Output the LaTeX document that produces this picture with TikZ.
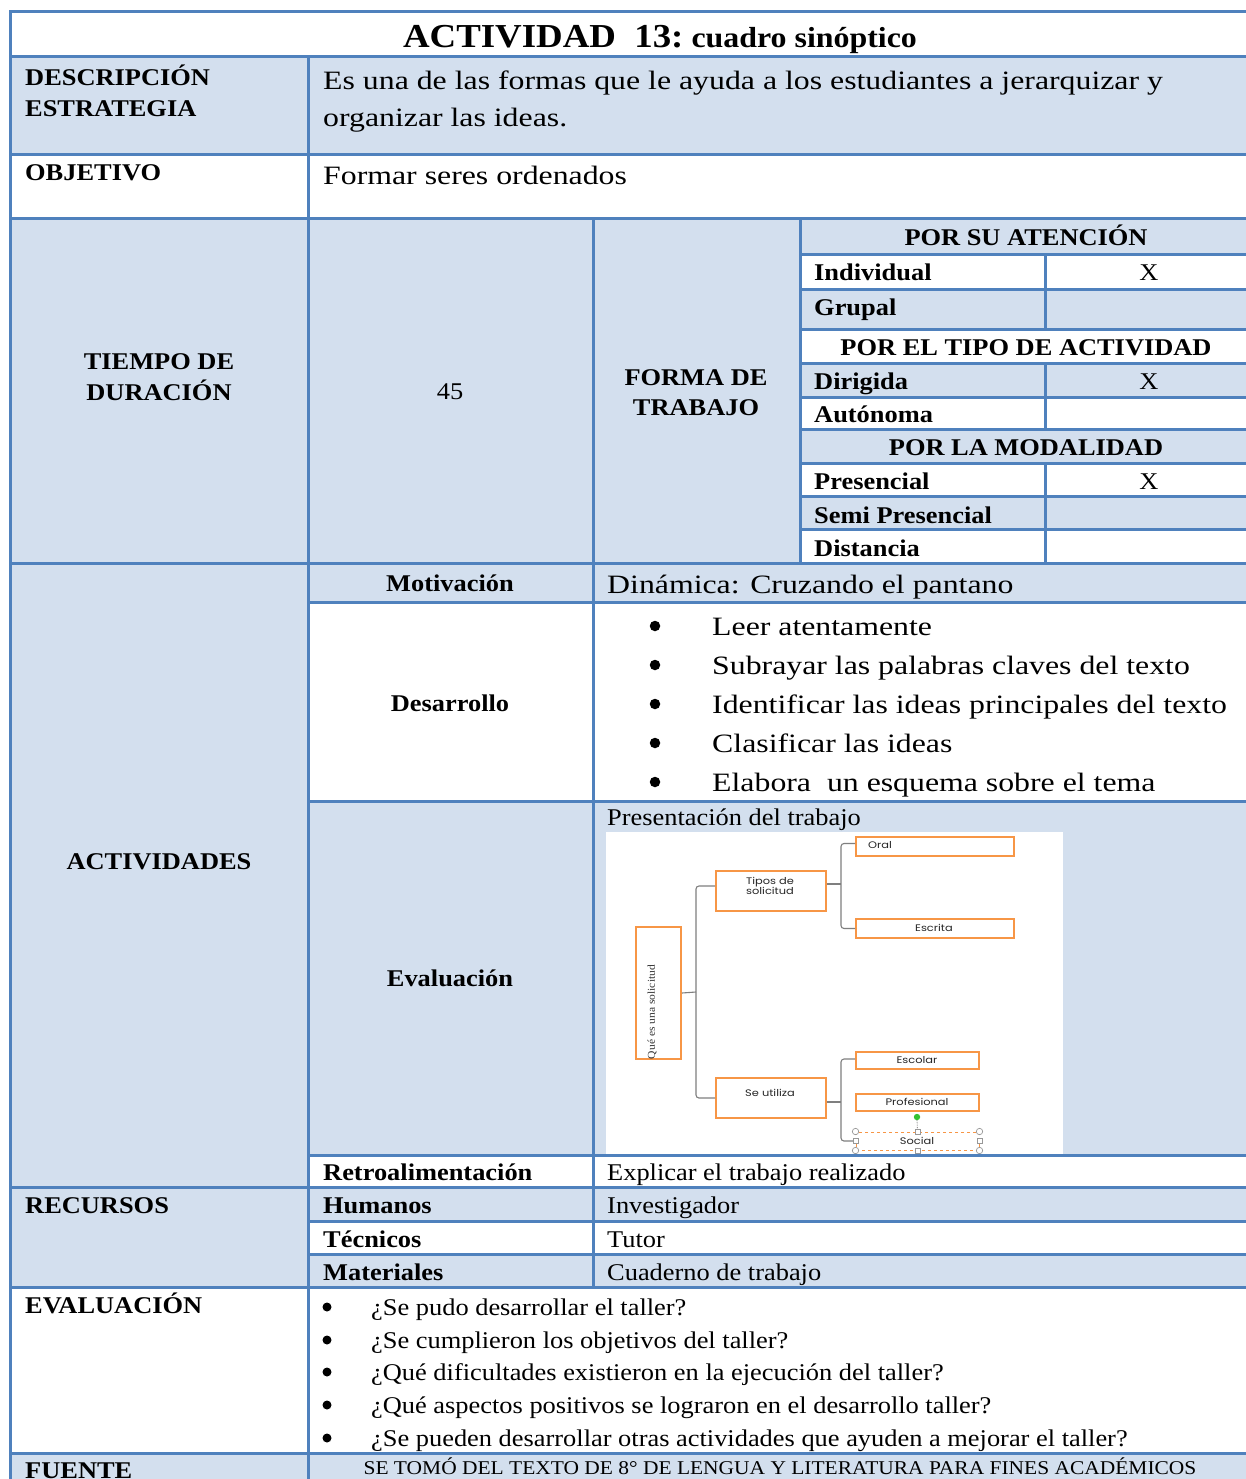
\documentclass[tikz,border=0pt]{standalone}
\usepackage{fontspec}
\setmainfont{Liberation Serif}[FakeStretch=1.1]
\newfontfamily\wfont{Liberation Serif}[FakeStretch=1.2]
\newfontfamily\gfont{Poppins}[FakeStretch=1.2]
\usetikzlibrary{calc}
\definecolor{tblue}{HTML}{4F81BD}
\definecolor{tfill}{HTML}{D3DFEE}
\definecolor{torange}{HTML}{F79646}
\definecolor{tgrey}{HTML}{7F7F7F}
\newcommand\lblfont{\fontsize{24}{30}\selectfont\bfseries}
\newcommand\medfont{\fontsize{24}{30}\selectfont}
\newcommand\bigfont{\wfont\fontsize{26.5}{32}\selectfont}
\newcommand\diafont{\gfont\fontsize{9.5}{11}\selectfont}
\begin{document}
\begin{tikzpicture}[x=1pt,y=-1pt,
  grid/.style={draw=tblue,line width=3pt},
  lab/.style={anchor=base west,inner sep=0pt,font=\lblfont},
  clab/.style={anchor=base,inner sep=0pt,font=\lblfont,align=center},
  txt/.style={anchor=base west,inner sep=0pt,font=\medfont},
  ctxt/.style={anchor=base,inner sep=0pt,font=\medfont},
  bigtxt/.style={anchor=base west,inner sep=0pt,font=\bigfont},
  bul/.style={circle,fill=black,inner sep=0pt},
  obox/.style={draw=torange,line width=2pt,inner sep=0pt},
  brk/.style={draw=tgrey,line width=1.1pt,rounded corners=3pt},
  dtext/.style={inner sep=0pt,font=\diafont,text=black!85}]
\useasboundingbox (0,0) rectangle (1245,1479);
\fill[white] (0,0) rectangle (1245,1479);
% ---------- fills ----------
\fill[tfill] (10,57) rectangle (1250,155);
\fill[tfill] (10,219) rectangle (800,563);
\fill[tfill] (800,219) rectangle (1250,254);
\fill[tfill] (800,289) rectangle (1250,329);
\fill[tfill] (800,363) rectangle (1250,397);
\fill[tfill] (800,429) rectangle (1250,463);
\fill[tfill] (800,496) rectangle (1250,529);
\fill[tfill] (10,563) rectangle (308,1187);
\fill[tfill] (308,563) rectangle (1250,602);
\fill[tfill] (308,801) rectangle (1250,1155);
\fill[tfill] (10,1187) rectangle (308,1287);
\fill[tfill] (308,1187) rectangle (1250,1221);
\fill[tfill] (308,1254) rectangle (1250,1287);
\fill[tfill] (10,1453) rectangle (1250,1495);
% ---------- embedded picture background ----------
\fill[white] (606,832) rectangle (1063,1154);
% ---------- grid lines ----------
\foreach \yy in {12,57,155,219,563,1187,1287,1453}
  \draw[grid] (10,\yy) -- (1250,\yy);
\foreach \yy in {602,801,1155,1221,1254}
  \draw[grid] (308,\yy) -- (1250,\yy);
\foreach \yy in {254,289,329,363,397,429,463,496,529}
  \draw[grid] (800,\yy) -- (1250,\yy);
\draw[grid] (10,10.5) -- (10,1495);
\draw[grid] (308,57) -- (308,1495);
\draw[grid] (593,219) -- (593,1287);
\draw[grid] (800,219) -- (800,563);
\draw[grid] (1045,254) -- (1045,329);
\draw[grid] (1045,363) -- (1045,429);
\draw[grid] (1045,463) -- (1045,563);
% ---------- title ----------
\node[anchor=base,inner sep=0pt] (title) at (660,48)
  {\fontsize{33.5}{36}\selectfont\bfseries ACTIVIDAD\ \ 13:\fontsize{29}{36}\selectfont\ cuadro sinóptico};
% ---------- descripcion / objetivo ----------
\node[lab] (ldesc1) at (25,86) {DESCRIPCIÓN};
\node[lab] (ldesc2) at (25,117) {ESTRATEGIA};
\node[bigtxt] (desc1) at (323,90) {Es una de las formas que le ayuda a los estudiantes a jerarquizar y};
\node[bigtxt] (desc2) at (323,127) {organizar las ideas.};
\node[lab] (lobj) at (25,181) {OBJETIVO};
\node[bigtxt] (obj) at (323,185) {Formar seres ordenados};
% ---------- tiempo / forma ----------
\node[clab] (ltiempo1) at (159,369) {TIEMPO DE};
\node[clab] (ltiempo2) at (159,400) {DURACIÓN};
\node[ctxt] (tiempo) at (450,399) {45};
\node[clab] (lforma1) at (696,385) {FORMA DE};
\node[clab] (lforma2) at (696,415) {TRABAJO};
\node[clab] (h1) at (1026,245) {POR SU ATENCIÓN};
\node[lab] (r1) at (814,280) {Individual};
\node[ctxt] (x1) at (1149,280) {X};
\node[lab] (r2) at (814,315) {Grupal};
\node[clab] (h2) at (1026,355) {POR EL TIPO DE ACTIVIDAD};
\node[lab] (r3) at (814,389) {Dirigida};
\node[ctxt] (x3) at (1149,389) {X};
\node[lab] (r4) at (814,422) {Autónoma};
\node[clab] (h3) at (1026,455) {POR LA MODALIDAD};
\node[lab] (r5) at (814,489) {Presencial};
\node[ctxt] (x5) at (1149,489) {X};
\node[lab] (r6) at (814,523) {Semi Presencial};
\node[lab] (r7) at (814,556) {Distancia};
% ---------- actividades ----------
\node[clab] (lact) at (159,869) {ACTIVIDADES};
\node[clab] (lmot) at (450,591) {Motivación};
\node[bigtxt] (mot) at (607,593) {Dinámica: Cruzando el pantano};
\node[clab] (ldes) at (450,711) {Desarrollo};
\foreach \yy/\tt [count=\i] in {635/Leer atentamente,674/Subrayar las palabras claves del texto,713/Identificar las ideas principales del texto,752/Clasificar las ideas,791/Elabora\ \ un esquema sobre el tema}{
  \node[bul,minimum size=10.5pt] (db\i) at (655,\yy-9) {};
  \node[bigtxt] (dt\i) at (712,\yy) {\tt};
}
\node[clab] (leva) at (450,986) {Evaluación};
\node[txt] (pres) at (607,825) {Presentación del trabajo};
\node[lab] (lret) at (323,1180) {Retroalimentación};
\node[txt] (ret) at (607,1180) {Explicar el trabajo realizado};
% ---------- recursos ----------
\node[lab] (lrec) at (25,1213) {RECURSOS};
\node[lab] (lhum) at (323,1213) {Humanos};
\node[txt] (hum) at (607,1213) {Investigador};
\node[lab] (ltec) at (323,1247) {Técnicos};
\node[txt] (tec) at (607,1247) {Tutor};
\node[lab] (lmat) at (323,1280) {Materiales};
\node[txt] (mat) at (607,1280) {Cuaderno de trabajo};
% ---------- evaluacion ----------
\node[lab] (levf) at (25,1313) {EVALUACIÓN};
\foreach \yy/\tt [count=\i] in {1315/¿Se pudo desarrollar el taller?,1348/¿Se cumplieron los objetivos del taller?,1380/¿Qué dificultades existieron en la ejecución del taller?,1413/¿Qué aspectos positivos se lograron en el desarrollo taller?,1446/¿Se pueden desarrollar otras actividades que ayuden a mejorar el taller?}{
  \node[bul,minimum size=9pt] (eb\i) at (327,\yy-8) {};
  \node[txt] (et\i) at (371,\yy) {\tt};
}
% ---------- fuente ----------
\node[lab] (lfue) at (25,1478) {FUENTE};
\node[anchor=base,inner sep=0pt,font=\fontsize{19.5}{22}\selectfont] (fue) at (780,1474)
  {SE TOMÓ DEL TEXTO DE 8° DE LENGUA Y LITERATURA PARA FINES ACADÉMICOS};
% ---------- embedded cuadro sinoptico ----------
\node[obox,minimum width=45pt,minimum height=132pt] (q) at (658.5,993) {};
\node[inner sep=0pt,rotate=90,font=\fontsize{10.5}{10}\selectfont,text=black!80] (qt) at (652,1012) {Qué es una solicitud};
\node[obox,minimum width=110pt,minimum height=40pt] (tipos) at (771,891) {};
\node[dtext,align=center] (tipost) at (770,886) {Tipos de\\[-1pt]solicitud};
\node[obox,minimum width=110pt,minimum height=40pt] (seutil) at (771,1098) {};
\node[dtext] (seutilt) at (770,1093) {Se utiliza};
\node[obox,minimum width=158pt,minimum height=19pt] (oral) at (935,846.5) {};
\node[dtext,anchor=west] (oralt) at (868,845) {Oral};
\node[obox,minimum width=158pt,minimum height=19pt] (escrita) at (935,928.5) {};
\node[dtext] (escritat) at (934,928) {Escrita};
\node[obox,minimum width=123pt,minimum height=17pt] (escolar) at (917.5,1060.5) {};
\node[dtext] (escolart) at (917,1060) {Escolar};
\node[obox,minimum width=123pt,minimum height=17pt] (prof) at (917.5,1102.5) {};
\node[dtext] (proft) at (917,1102) {Profesional};
\node[draw=torange,dashed,line width=1pt,inner sep=0pt,minimum width=123pt,minimum height=18pt] (social) at (917.5,1141) {};
\node[dtext] (socialt) at (917,1141) {Social};
% brackets
\coordinate (b1) at (696,992);
\coordinate (b2) at (841,884);
\coordinate (b3) at (841,1102);
\draw[brk] (q.east) -- (b1);
\draw[brk] ([yshift=5pt]tipos.west) -| (b1) |- (seutil.west);
\draw[brk] ([yshift=7pt]tipos.east) -- (b2);
\draw[brk] ([yshift=3pt]oral.west) -| (b2) |- (escrita.west);
\draw[brk] ([yshift=-4pt]seutil.east) -- (b3);
\draw[brk] ([yshift=1.5pt]escolar.west) -| (b3) |- (social.west);
% selection handles
\draw[tgrey,densely dotted,line width=0.8pt] (917,1120) -- (social.north);
\fill[green!70!black!80] (917,1117) circle (3.2pt);
\foreach \a in {north west,north east,south west,south east}
  \draw[tgrey!80,fill=white,line width=0.7pt] (social.\a) circle (3.2pt);
\foreach \a in {north,south,west,east}
  \draw[tgrey!80,fill=white,line width=0.7pt] ($(social.\a)+(-2.6,-2.6)$) rectangle ++(5.2,5.2);
\end{tikzpicture}
\end{document}
